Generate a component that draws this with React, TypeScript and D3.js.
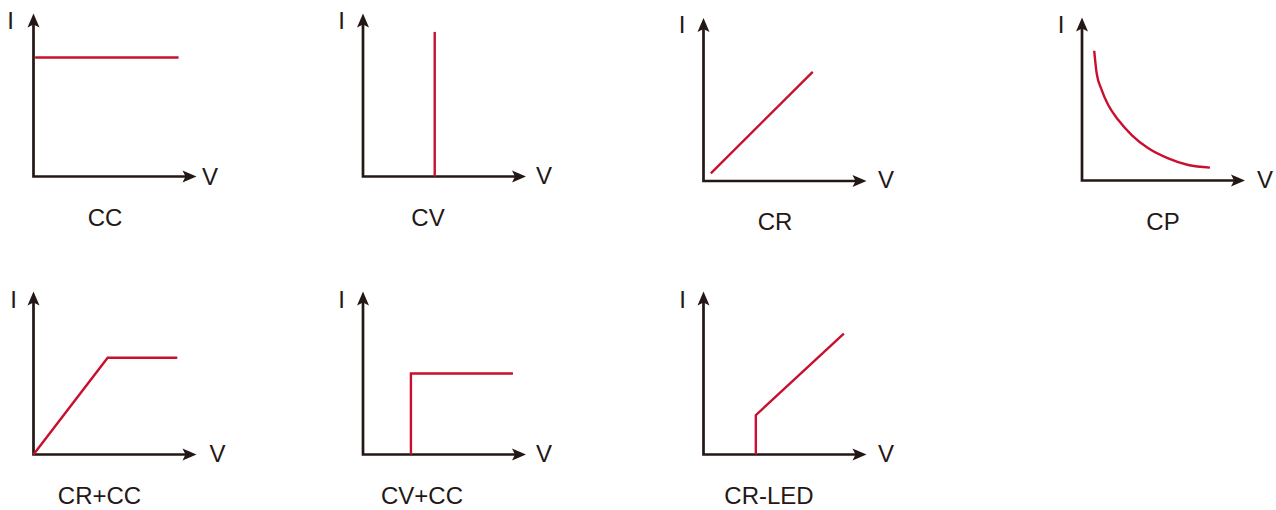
import React, { useRef, useEffect } from "react";
import * as d3 from "d3";

// operating modes, one small panel each
const modes = ["CC", "CV", "CR", "CP", "CR+CC", "CV+CC", "CR-LED"];

// V / I points of each mode curve (axis units 0..100)
const ccV = [1, 89];
const ccI = [73, 73];
const cvV = [44, 44];
const cvI = [0, 88.7];
const crV = [4.5, 67];
const crI = [4.7, 67];
const cpV = [7.5, 9, 12.1, 16.1, 22.3, 30.5, 40.7, 52.9, 65.2, 78.5];
const cpI = [79.6, 65.8, 55.5, 46.3, 37.1, 27.9, 19.8, 13.6, 9.5, 7.9];
const crccV = [0, 45.5, 88.2];
const crccI = [0, 59.4, 59.4];
const cvccV = [29.4, 29.4, 92];
const cvccI = [0, 49.7, 49.7];
const crledV = [32.1, 32.1, 86.1];
const crledI = [0, 24.1, 74.2];

const seriesV = [ccV, cvV, crV, cpV, crccV, cvccV, crledV];
const seriesI = [ccI, cvI, crI, cpI, crccI, cvccI, crledI];

const xLabel = "V";
const yLabel = "I";

// panel layout: axis origin, and label anchors
const layout = [
  { ox: 33.5, oy: 176.5, ix: 10.5, iy: 29, vx: 210, vy: 185, lx: 105, ly: 226 },
  { ox: 363, oy: 176.5, ix: 341.7, iy: 29, vx: 544, vy: 184, lx: 428, ly: 226 },
  { ox: 703.5, oy: 181, ix: 682, iy: 33, vx: 886, vy: 188, lx: 775, ly: 230 },
  { ox: 1082, oy: 180.5, ix: 1061, iy: 33, vx: 1265, vy: 188, lx: 1163, ly: 230 },
  { ox: 33.5, oy: 454.5, ix: 13.5, iy: 308, vx: 217.5, vy: 462, lx: 99.5, ly: 504 },
  { ox: 363, oy: 454.5, ix: 341.7, iy: 308, vx: 544, vy: 462, lx: 422, ly: 504 },
  { ox: 703.5, oy: 454.5, ix: 682.5, iy: 308, vx: 886, vy: 462, lx: 769, ly: 504 },
];

const App = () => {
  const ref = useRef<SVGSVGElement>(null);

  useEffect(() => {
    const svgWidth = 1276;
    const svgHeight = 510;
    const axisLen = 163;
    const axisColor = "#231815";
    const curveColor = "#c8102e";
    const fontColor = "#231815";
    const fontSize = "24px";

    const svg = d3.select(ref.current)
      .attr("width", svgWidth)
      .attr("height", svgHeight);

    svg.selectAll("*").remove();

    modes.forEach((mode, i) => {
      const p = layout[i];
      const g = svg.append("g").attr("class", "panel");

      const xScale = d3.scaleLinear().domain([0, 100]).range([p.ox, p.ox + axisLen]);
      const yScale = d3.scaleLinear().domain([0, 100]).range([p.oy, p.oy - axisLen]);

      const xTip = xScale(100);
      const yTip = yScale(100);

      // axes
      g.append("path")
        .attr("d", `M${p.ox},${yTip + 9} L${p.ox},${p.oy} L${xTip - 9},${p.oy}`)
        .attr("fill", "none")
        .attr("stroke", axisColor)
        .attr("stroke-width", 2.7)
        .attr("stroke-linejoin", "miter");

      // arrow heads
      g.append("path")
        .attr("d", `M${p.ox},${yTip} L${p.ox + 6},${yTip + 14} L${p.ox},${yTip + 11} L${p.ox - 6},${yTip + 14} Z`)
        .attr("fill", axisColor);
      g.append("path")
        .attr("d", `M${xTip},${p.oy} L${xTip - 14},${p.oy - 6} L${xTip - 11},${p.oy} L${xTip - 14},${p.oy + 6} Z`)
        .attr("fill", axisColor);

      // mode curve
      const pts = seriesV[i].map((v, k) => [v, seriesI[i][k]] as [number, number]);
      const line = d3.line<[number, number]>()
        .x(d => xScale(d[0]))
        .y(d => yScale(d[1]))
        .curve(mode === "CP" ? d3.curveMonotoneX : d3.curveLinear);

      g.append("path")
        .datum(pts)
        .attr("d", line)
        .attr("fill", "none")
        .attr("stroke", curveColor)
        .attr("stroke-width", 2.4)
        .attr("stroke-linejoin", "miter");

      // texts
      const txt = (x: number, y: number, s: string) =>
        g.append("text")
          .attr("x", x)
          .attr("y", y)
          .attr("text-anchor", "middle")
          .style("font-family", "'Liberation Sans', Arial, sans-serif")
          .style("font-size", fontSize)
          .style("fill", fontColor)
          .text(s);

      txt(p.ix, p.iy, yLabel);
      txt(p.vx, p.vy, xLabel);
      txt(p.lx, p.ly, mode);
    });
  }, []);

  return (
    <div style={{ position: "absolute", left: 0, top: 0, background: "#fff" }}>
      <svg ref={ref} style={{ display: "block" }}></svg>
    </div>
  );
};

export default App;
